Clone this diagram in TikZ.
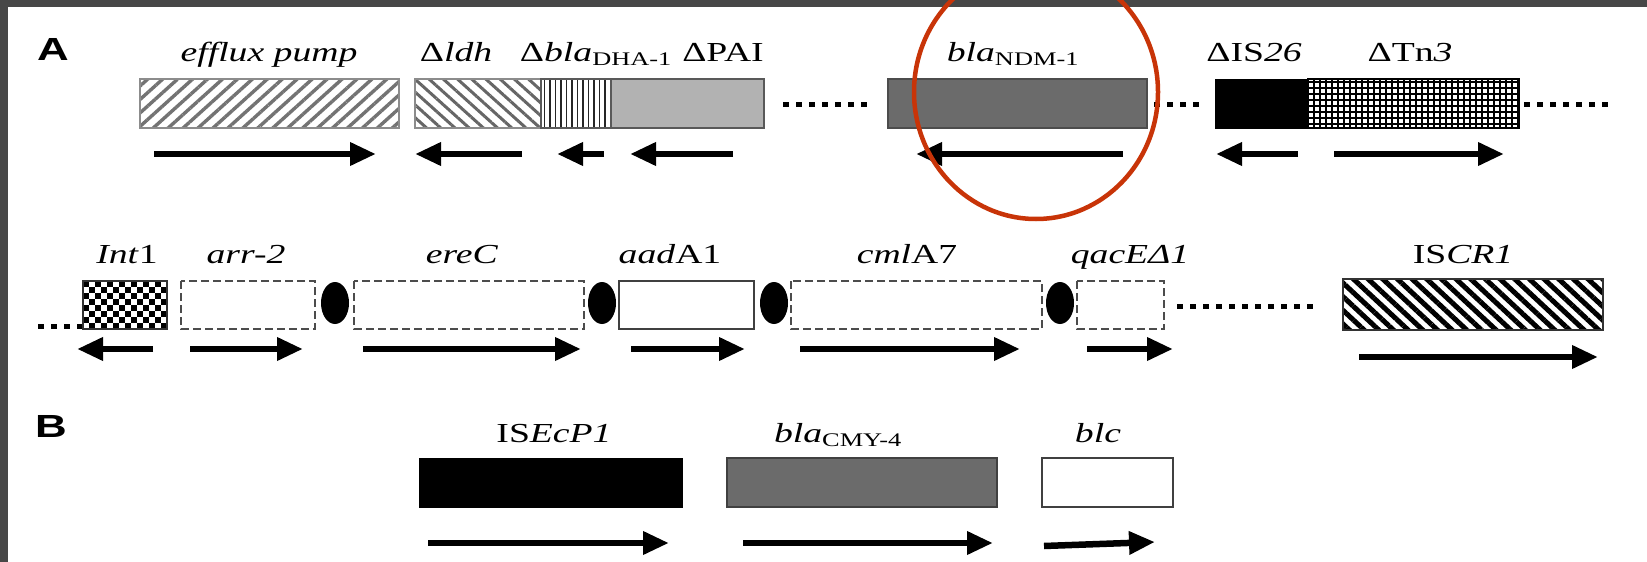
\documentclass[tikz,border=0pt]{standalone}
\usepackage{fontspec}
\setmainfont{Liberation Serif}
\newfontfamily\panelfont{Liberation Sans}
\usetikzlibrary{arrows.meta,patterns.meta}

\definecolor{framegray}{RGB}{71,71,71}
\definecolor{midgray}{RGB}{107,107,107}
\definecolor{lightfill}{RGB}{178,178,178}
\definecolor{ringred}{RGB}{200,52,8}

% horizontally widened lettering
\newcommand{\hstr}[1]{\scalebox{1.37}[1]{#1}}
\newcommand{\gsub}[1]{\textsubscript{\upshape #1}}

\tikzset{
  lbl/.style={anchor=base, inner sep=0pt, font=\fontsize{27.5}{30}\selectfont},
  panel/.style={anchor=base, inner sep=0pt, font=\panelfont\bfseries\fontsize{32}{34}\selectfont},
  gbox/.style={draw=black!65, line width=1.3pt},
  dbox/.style={draw=black!70, line width=2pt, dash pattern=on 8pt off 4pt},
  dotline/.style={line width=5pt, dash pattern=on 6pt off 7pt},
  garrow/.style={line width=6.5pt, -{Triangle[length=26pt,width=22pt]}},
  spot/.style={fill=black},
}

\begin{document}
\begin{tikzpicture}[x=1pt, y=-1pt]
\useasboundingbox (0,0) rectangle (1647,562);
\fill[white] (0,0) rectangle (1647,562);
\fill[framegray] (0,0) rectangle (1647,7);
\fill[framegray] (0,0) rectangle (8,562);

% ---------- panel A, upper row ----------
\node[panel] (pA) at (53,60) {\hstr{A}};

\path[gbox, draw=black!45, pattern={Lines[angle=42, distance=10pt, line width=3.4pt]}, pattern color=black!55]
  (140,79) rectangle (399,128);
\path[gbox, draw=black!45, pattern={Lines[angle=138, distance=9.5pt, line width=3pt]}, pattern color=black!60]
  (415,79) rectangle (541,128);
\path[gbox, pattern={Lines[angle=90, distance=5.5pt, line width=1.7pt]}, pattern color=black!85]
  (541,79) rectangle (611,128);
\path[gbox, fill=lightfill] (611,79) rectangle (764,128);
\draw[dotline] (783,104) -- (872,104);
\path[gbox, fill=midgray, draw=black!70] (888,79) rectangle (1147,128);
\draw[dotline] (1154,104) -- (1202,104);
\path[fill=black, draw=black] (1215,79) rectangle (1308,128);
\path[gbox, draw=black, pattern={Hatch[angle=0, distance=6pt, line width=1.7pt]}, pattern color=black]
  (1308,79) rectangle (1519,128);
\draw[dotline] (1524,104) -- (1614,104);

\node[lbl] (effl) at (269,61) {\hstr{\textit{efflux pump}}};
\node[lbl] (ldh)  at (456,61) {\hstr{Δ\textit{ldh}}};
\node[lbl] (dha)  at (596,61) {\hstr{Δ\textit{bla}\gsub{DHA-1}}};
\node[lbl] (pai)  at (723,61) {\hstr{ΔPAI}};
\node[lbl] (ndm)  at (1013,61) {\hstr{\textit{bla}\gsub{NDM-1}}};
\node[lbl] (is26) at (1254,61) {\hstr{ΔIS\textit{26}}};
\node[lbl] (tn3)  at (1410,61) {\hstr{ΔTn\textit{3}}};

\draw[garrow] (154,154) -- (376,154);
\draw[garrow] (522,154) -- (415,154);
\draw[garrow] (604,154) -- (557,154);
\draw[garrow] (733,154) -- (630,154);
\draw[garrow] (1123,154) -- (916,154);
\draw[garrow] (1298,154) -- (1216,154);
\draw[garrow] (1334,154) -- (1504,154);

% ---------- panel A, lower row ----------
\draw[dotline] (38,326) -- (83,326);
\begin{scope}
  \clip (83,281) rectangle (167,329);
  \foreach \i in {0,...,14} {
    \foreach \j in {0,...,8} {
      \pgfmathtruncatemacro\cellpar{mod(\i+\j,2)}
      \ifnum\cellpar=0
        \fill ({83+6*\i},{281+6*\j}) rectangle ++(6,6);
      \fi
    }
  }
\end{scope}
\path[gbox, draw=black!80] (83,281) rectangle (167,329);
\path[dbox] (181,281) rectangle (315,329);
\fill[spot] (335,303) ellipse [x radius=14, y radius=21];
\path[dbox] (354,281) rectangle (584,329);
\fill[spot] (602,303) ellipse [x radius=14, y radius=21];
\path[gbox, draw=black!75, line width=2pt] (619,281) rectangle (754,329);
\fill[spot] (774,303) ellipse [x radius=14, y radius=21];
\path[dbox] (791,281) rectangle (1042,329);
\fill[spot] (1060,303) ellipse [x radius=14, y radius=21];
\path[dbox] (1077,281) rectangle (1164,329);
\draw[dotline] (1177,306) -- (1320,306);
\path[gbox, draw=black!80, pattern={Lines[angle=137, distance=10pt, line width=5pt]}, pattern color=black]
  (1343,279) rectangle (1603,330);

\node[lbl] (int1) at (127,263) {\hstr{\textit{Int}1}};
\node[lbl] (arr2) at (246,263) {\hstr{\textit{arr-2}}};
\node[lbl] (erec) at (462,263) {\hstr{\textit{ereC}}};
\node[lbl] (aada) at (670,263) {\hstr{\textit{aad}A1}};
\node[lbl] (cmla) at (907,263) {\hstr{\textit{cml}A7}};
\node[lbl] (qace) at (1130,263) {\hstr{\textit{qacEΔ1}}};
\node[lbl] (iscr) at (1463,263) {\hstr{IS\textit{CR1}}};

\draw[garrow] (153,349) -- (77,349);
\draw[garrow] (190,349) -- (303,349);
\draw[garrow] (363,349) -- (581,349);
\draw[garrow] (631,349) -- (745,349);
\draw[garrow] (800,349) -- (1020,349);
\draw[garrow] (1087,349) -- (1173,349);
\draw[garrow] (1359,357) -- (1598,357);

% ---------- panel B ----------
\node[panel] (pB) at (51,437) {\hstr{B}};
\path[fill=black, draw=black] (419,458) rectangle (682,507);
\path[gbox, fill=midgray, draw=black!75] (727,458) rectangle (997,507);
\path[gbox, fill=white, draw=black!75] (1042,458) rectangle (1173,507);

\node[lbl] (isecp) at (554,442) {\hstr{IS\textit{EcP1}}};
\node[lbl] (cmy)   at (838,442) {\hstr{\textit{bla}\gsub{CMY-4}}};
\node[lbl] (blc)   at (1098,442) {\hstr{\textit{blc}}};

\draw[garrow] (428,543) -- (669,543);
\draw[garrow] (743,543) -- (993,543);
\draw[garrow] (1044,546) -- (1155,542);

% ---------- highlight ring ----------
\draw[ringred, line width=4.5pt] (1036,92) ellipse [x radius=122, y radius=127];
\end{tikzpicture}
\end{document}
